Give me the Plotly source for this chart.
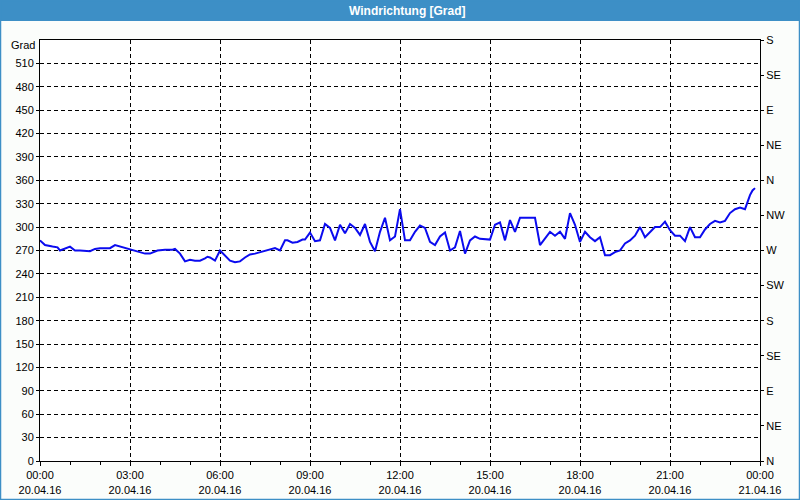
import plotly.graph_objects as go

# Wind direction readings on 20.04.2016
TIMES = [
    "00:00", "00:10", "00:25", "00:35", "00:40", "00:50", "01:00", "01:10", "01:20", "01:40",
    "01:50", "02:00", "02:20", "02:30", "02:40", "02:50", "03:00", "03:10", "03:20", "03:30",
    "03:40", "03:55", "04:10", "04:25", "04:30", "04:40", "04:50", "05:00", "05:10", "05:20",
    "05:30", "05:35", "05:40", "05:50", "06:00", "06:05", "06:10", "06:20", "06:30", "06:40",
    "06:50", "07:00", "07:10", "07:25", "07:35", "07:45", "07:50", "08:00", "08:10", "08:15",
    "08:25", "08:35", "08:45", "08:50", "09:00", "09:10", "09:20", "09:30", "09:40", "09:50",
    "10:00", "10:10", "10:20", "10:30", "10:40", "10:50", "11:00", "11:10", "11:20", "11:30",
    "11:40", "11:50", "12:00", "12:10", "12:20", "12:30", "12:40", "12:50", "13:00", "13:10",
    "13:20", "13:30", "13:40", "13:50", "14:00", "14:10", "14:20", "14:30", "14:40", "15:00",
    "15:10", "15:20", "15:30", "15:40", "15:50", "16:00", "16:30", "16:40", "16:50", "17:00",
    "17:10", "17:20", "17:30", "17:40", "17:50", "18:00", "18:10", "18:20", "18:30", "18:40",
    "18:50", "19:00", "19:10", "19:20", "19:30", "19:40", "19:50", "20:00", "20:10", "20:20",
    "20:30", "20:40", "20:50", "21:00", "21:10", "21:20", "21:30", "21:40", "21:50", "22:00",
    "22:10", "22:20", "22:30", "22:40", "22:50", "23:00", "23:10", "23:20", "23:30", "23:40",
    "23:45", "23:50",
]
DIRECTION = [
    283, 277, 275, 274, 270, 272, 275, 270, 270, 269,
    272, 273, 273, 277, 275, 274, 271, 269, 268, 266,
    266, 270, 271, 271, 272, 266, 256, 258, 257, 257,
    260, 262, 261, 257, 270, 267, 263, 257, 255, 256,
    261, 265, 266, 269, 271, 272, 273, 270, 283, 283,
    280, 281, 284, 284, 293, 282, 283, 304, 299, 283,
    303, 292, 304, 299, 290, 304, 281, 269, 294, 312,
    283, 288, 323, 283, 283, 294, 302, 299, 281, 277,
    288, 293, 270, 274, 295, 266, 283, 288, 285, 284,
    303, 306, 283, 309, 294, 312, 312, 277, 286, 294,
    289, 294, 285, 318, 303, 281, 294, 287, 282, 287,
    264, 264, 268, 270, 279, 283, 289, 300, 287, 294,
    300, 300, 307, 296, 289, 289, 282, 300, 287, 287,
    297, 304, 308, 306, 308, 318, 323, 325, 323, 341,
    347, 350,
]

X_TICKS = ["2016-04-20 %02d:00" % h for h in range(0, 24, 3)] + ["2016-04-21 00:00"]
X_LABELS = ["%02d:00<br>20.04.16" % h for h in range(0, 24, 3)] + ["00:00<br>21.04.16"]
LEFT_TICKS = list(range(0, 511, 30))
RIGHT_TICKS = list(range(0, 541, 45))
RIGHT_LABELS = ["N", "NE", "E", "SE", "S", "SW", "W", "NW", "N", "NE", "E", "SE", "S"]

FONT = "Liberation Sans, Arial, sans-serif"
BAR_BLUE = "#3d8fc6"

# plot area geometry in pixels (used to place page decorations in paper coords)
W, H = 800, 500
ML, MR, MT, MB = 40, 40, 40, 39
PW, PH = W - ML - MR, H - MT - MB


def px_x(x):
    return (x - ML) / PW


def px_y(y):
    return 1 - (y - MT) / PH


fig = go.Figure()
fig.add_trace(go.Scatter(
    x=["2016-04-20 " + t for t in TIMES],
    y=DIRECTION,
    mode="lines",
    line=dict(color="#0b0bef", width=2),
    hoverinfo="x+y",
))
# invisible trace so the right-hand compass axis is drawn
fig.add_trace(go.Scatter(
    x=[X_TICKS[0]], y=[0], yaxis="y2", mode="markers",
    marker=dict(opacity=0), hoverinfo="skip",
))

grid = dict(showgrid=True, gridcolor="black", gridwidth=1, griddash="4px,3px")

fig.update_layout(
    width=W, height=H,
    margin=dict(l=ML, r=MR, t=MT, b=MB, autoexpand=False),
    paper_bgcolor="#fbfdfb",
    plot_bgcolor="white",
    showlegend=False,
    font=dict(family=FONT, size=11, color="black"),
    xaxis=dict(
        type="date",
        range=["2016-04-20 00:00", "2016-04-21 00:00"],
        tickmode="array", tickvals=X_TICKS, ticktext=X_LABELS,
        ticks="outside", ticklen=4, tickcolor="black",
        minor=dict(dtick=3600000, ticks="outside", ticklen=3, tickcolor="black", showgrid=False),
        showline=True, linecolor="black", linewidth=1, mirror=True,
        zeroline=False, automargin=False,
        **grid,
    ),
    yaxis=dict(
        range=[0, 540],
        tickmode="array", tickvals=LEFT_TICKS,
        ticks="outside", ticklen=3, tickcolor="black",
        showline=True, linecolor="black", linewidth=1, mirror=True,
        zeroline=False, automargin=False,
        **grid,
    ),
    yaxis2=dict(
        range=[0, 540], overlaying="y", side="right",
        tickmode="array", tickvals=RIGHT_TICKS, ticktext=RIGHT_LABELS,
        ticks="outside", ticklen=3, tickcolor="black",
        showgrid=False, zeroline=False, showline=False, automargin=False,
    ),
)

# title bar and page frame
fig.add_shape(type="rect", xref="paper", yref="paper",
              x0=px_x(0), x1=px_x(W), y0=px_y(21), y1=px_y(0),
              fillcolor=BAR_BLUE, line=dict(width=0), layer="below")
fig.add_shape(type="rect", xref="paper", yref="paper",
              x0=px_x(0.5), x1=px_x(W - 0.5), y0=px_y(H - 0.5), y1=px_y(0.5),
              fillcolor="rgba(0,0,0,0)", line=dict(color=BAR_BLUE, width=1.5))
fig.add_annotation(
    text="<b>Windrichtung [Grad]</b>", xref="paper", yref="paper",
    x=px_x(407), y=px_y(11), xanchor="center", yanchor="middle", showarrow=False,
    font=dict(family=FONT, size=12, color="white"),
)
fig.add_annotation(
    text="Grad", xref="paper", yref="paper",
    x=px_x(37), y=px_y(45), xanchor="right", yanchor="middle", showarrow=False,
    font=dict(family=FONT, size=11, color="black"),
)

# the page must start at the window's top-left corner
fig.write_html(
    "out.html",
    config={"displayModeBar": False},
    post_script="document.body.style.margin='0';",
)
